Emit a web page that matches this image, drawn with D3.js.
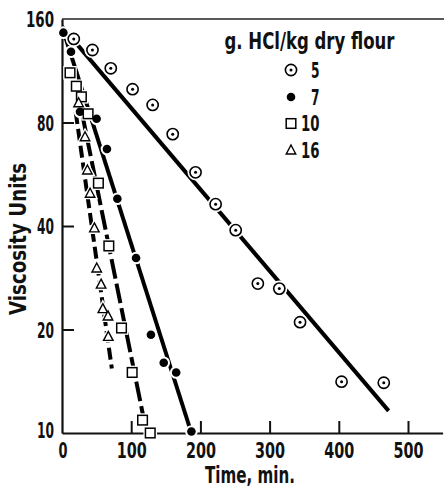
<!DOCTYPE html>
<html>
<head>
<meta charset="utf-8">
<script src="https://cdn.jsdelivr.net/npm/d3@7"></script>
<style>
  html, body { margin: 0; padding: 0; background: #fff; }
  svg { display: block; }
  text { font-family: 'Liberation Sans Narrow', 'DejaVu Sans Condensed', 'Roboto', sans-serif; font-weight: bold; fill: #111; }
</style>
</head>
<body>
<svg id="chart" width="444" height="487"></svg>
<script>
// ---- data ----
const seriesNames = ["5", "7", "10", "16"];
const legendTitle = "g. HCl/kg dry flour";
const xLabel = "Time, min.";
const yLabel = "Viscosity Units";
const xTicks = [0, 100, 200, 300, 400, 500];
const yTicks = [10, 20, 40, 80, 160];

const time5 = [17, 44, 70.5, 102, 131, 160, 193, 222, 251, 283, 314, 344, 404, 465];
const visc5 = [140, 130, 115, 100, 90, 74, 57.3, 46.3, 38.9, 27.2, 26.3, 21, 14.1, 14.0];

const time7 = [2, 13, 26, 50, 65, 80, 107, 128.5, 147, 165, 187];
const visc7 = [146, 128.5, 86, 82, 67, 48, 32.3, 19.3, 16, 15, 10.1];

const time10 = [11.6, 20.7, 28, 37.7, 52.6, 67.7, 86, 101.4, 116.4, 127.5];
const visc10 = [111.6, 102, 95, 84.8, 53.3, 35, 20.2, 15, 10.9, 10.0];

const time16 = [24, 33.3, 36.7, 40.6, 46.8, 50.2, 56.5, 59, 66.5, 66.9];
const visc16 = [91.3, 72.7, 58.2, 49.8, 39.5, 30.2, 27.1, 23, 21.9, 19.1];

// fitted lines drawn on the figure (start and end of each line)
const fitTime5 = [0, 472], fitVisc5 = [152, 11.6];
const fitTime7 = [0, 187], fitVisc7 = [152, 10];
const fitTime10 = [28.6, 117], fitVisc10 = [85.8, 11.3];
const fitTime16 = [19.8, 72], fitVisc16 = [85.8, 15.4];

// ---- layout ----
const svg = d3.select("#chart");
const x = d3.scaleLinear().domain([0, 550]).range([62, 442.6]);
const y = d3.scaleLog().base(2).domain([10, 160]).range([433, 19]);

const zip = (a, b) => a.map((v, i) => [v, b[i]]);
const series = [
  { name: "5", pts: zip(time5, visc5), fit: zip(fitTime5, fitVisc5), marker: "circdot", dash: null },
  { name: "7", pts: zip(time7, visc7), fit: zip(fitTime7, fitVisc7), marker: "dot", dash: null },
  { name: "10", pts: zip(time10, visc10), fit: zip(fitTime10, fitVisc10), marker: "square", dash: "20,5" },
  { name: "16", pts: zip(time16, visc16), fit: zip(fitTime16, fitVisc16), marker: "tri", dash: "12,5" }
];

const FONT = "'Liberation Sans Narrow', 'DejaVu Sans Condensed', sans-serif";

// frame: top line
svg.append("line").attr("x1", 62).attr("x2", 444).attr("y1", 19).attr("y2", 19)
  .attr("stroke", "#222").attr("stroke-width", 1.5);

// axes
const yAxis = d3.axisLeft(y).tickValues(yTicks).tickFormat(d3.format("d")).tickSize(-12).tickSizeOuter(0).tickPadding(8);
const gy = svg.append("g").attr("transform", "translate(62,0)").call(yAxis);
gy.select(".domain").attr("stroke", "#111").attr("stroke-width", 2.2);
gy.selectAll(".tick line").attr("stroke", "#111").attr("stroke-width", 2)
  .attr("display", d => (d === 10 || d === 160) ? "none" : null);
gy.selectAll(".tick text").attr("font-size", 21).attr("fill", "#111")
  .attr("font-family", FONT).attr("font-weight", "bold")
  .attr("x", -8).attr("dy", d => d === 10 ? "0.2em" : "0.36em")
  .attr("textLength", d => String(d).length === 3 ? 28 : 17)
  .attr("lengthAdjust", "spacingAndGlyphs");

const xAxis = d3.axisBottom(x).tickValues(xTicks).tickFormat(d3.format("d")).tickSize(-12).tickSizeOuter(0).tickPadding(12);
const gx = svg.append("g").attr("transform", "translate(0,433)").call(xAxis);
gx.select(".domain").attr("stroke", "#111").attr("stroke-width", 2);
gx.selectAll(".tick line").attr("stroke", "#111").attr("stroke-width", 2)
  .attr("display", d => d === 0 ? "none" : null);
gx.selectAll(".tick text").attr("font-size", 21).attr("fill", "#111")
  .attr("font-family", FONT).attr("font-weight", "bold")
  .attr("y", 25).attr("dy", 0)
  .attr("x", d => d === 0 ? 0.5 : 0)
  .attr("textLength", d => String(d).length === 3 ? 30 : 9)
  .attr("lengthAdjust", "spacingAndGlyphs");

// axis titles
svg.append("text").attr("x", 205).attr("y", 483).attr("font-size", 23)
  .attr("textLength", 90).attr("lengthAdjust", "spacingAndGlyphs").text(xLabel);
svg.append("text").attr("transform", "translate(26,239) rotate(-90)").attr("text-anchor", "middle")
  .attr("font-size", 23).attr("textLength", 152).attr("lengthAdjust", "spacingAndGlyphs").text(yLabel);

// fitted lines
const line = d3.line().x(d => x(d[0])).y(d => y(d[1]));
svg.append("g").selectAll("path").data(series).join("path")
  .attr("d", d => line(d.fit))
  .attr("fill", "none").attr("stroke", "#000").attr("stroke-width", 4)
  .attr("stroke-dasharray", d => d.dash);

// marker drawing
function drawMarker(g, type, s, halo) {
  const sw = halo ? 5 : 1.6;
  const stroke = halo ? "#fff" : "#000";
  if (type === "circdot") {
    g.append("circle").attr("r", 5.6 * s).attr("fill", "#fff").attr("stroke", stroke).attr("stroke-width", sw);
    if (!halo) g.append("circle").attr("r", 1.5 * s).attr("fill", "#000");
  } else if (type === "dot") {
    g.append("circle").attr("r", 4.3 * s).attr("fill", halo ? "#fff" : "#000").attr("stroke", stroke).attr("stroke-width", halo ? 4 : 0);
  } else if (type === "square") {
    const h = 4.8 * s;
    g.append("rect").attr("x", -h).attr("y", -h).attr("width", 2 * h).attr("height", 2 * h)
      .attr("fill", "#fff").attr("stroke", stroke).attr("stroke-width", halo ? 4 : 1.5);
  } else if (type === "tri") {
    const r = 5 * s;
    g.append("path").attr("d", `M0,${-r}L${r * 0.95},${r * 0.8}L${-r * 0.95},${r * 0.8}Z`)
      .attr("fill", "#fff").attr("stroke", stroke).attr("stroke-width", halo ? 4 : 1.4).attr("stroke-linejoin", "miter");
  }
}

// halos then markers
[true, false].forEach(halo => {
  series.forEach(sr => {
    const gs = svg.append("g");
    sr.pts.forEach(p => {
      const g = gs.append("g").attr("transform", `translate(${x(p[0])},${y(p[1])})`);
      drawMarker(g, sr.marker, 1, halo);
    });
  });
});

// legend
svg.append("text").attr("x", 224.5).attr("y", 49).attr("font-size", 23)
  .attr("textLength", 170).attr("lengthAdjust", "spacingAndGlyphs").text(legendTitle);
const legendY = [70, 97, 123.5, 150];
series.forEach((sr, i) => {
  const g = svg.append("g").attr("transform", `translate(291,${legendY[i]})`);
  drawMarker(g, sr.marker, 1, false);
  svg.append("text").attr("x", 319.5).attr("y", legendY[i] + 7.5).attr("text-anchor", "end")
    .attr("font-size", 22)
    .attr("textLength", sr.name.length === 2 ? 18.5 : 8.5).attr("lengthAdjust", "spacingAndGlyphs")
    .text(sr.name);
});
</script>
</body>
</html>
